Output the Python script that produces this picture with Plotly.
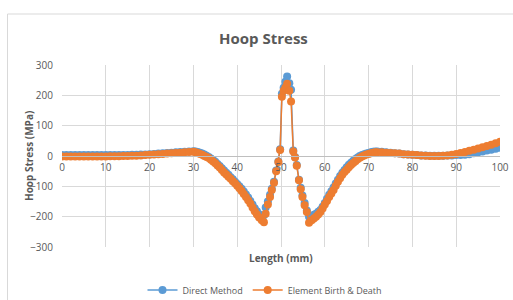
import plotly.graph_objects as go

length_mm = [0, 1, 2, 3, 4, 5, 6, 7, 8, 9, 10, 11, 12, 13, 14, 15, 16, 17, 18, 19,
             20, 21, 22, 23, 24, 25, 26, 27, 28, 29,
             30, 30.5, 31, 31.5, 32, 32.5, 33, 33.5, 34, 34.5, 35, 35.5, 36, 36.5, 37, 37.5,
             38, 38.5, 39, 39.5, 40, 40.5, 41, 41.5, 42, 42.5, 43, 43.5, 44, 44.5, 45, 45.6, 46.1,
             46.5, 47.0, 47.5, 47.9, 48.4, 48.9, 49.4, 49.8,
             50.2, 50.6, 51.0, 51.4, 51.9, 52.3, 52.8, 53.2, 53.6, 54.1, 54.5, 54.9, 55.4, 55.9,
             56.4, 57, 57.5, 58, 58.5, 59, 59.5, 60, 60.5, 61, 61.5, 62, 62.5, 63, 63.5, 64, 64.5,
             65, 65.5, 66, 66.5, 67, 67.5, 68, 68.5, 69, 69.5, 70, 70.5, 71, 71.5, 72,
             73, 74, 75, 76, 77, 78, 79, 80, 81, 82, 83, 84, 85, 86, 87, 88, 89, 90,
             91, 92, 93, 94, 95, 96, 97, 98, 99, 100]

direct_method = [3, 3, 3, 3, 3, 3, 3, 3, 3, 3, 3, 3, 3, 3, 3, 3, 4, 4, 5, 5,
                 6, 7, 8, 9, 10, 11, 12, 13, 14, 15,
                 16, 15, 13, 11, 8, 5, 1, -3, -8, -13, -19, -26, -33, -40, -48, -55,
                 -62, -70, -77, -85, -92, -100, -108, -117, -127, -137, -148, -160, -172, -182, -192, -200, -195,
                 -170, -150, -128, -108, -85, -48, -18, 22,
                 205, 225, 245, 262, 240, 218, 18, -3, -30, -78, -105, -130, -155, -180,
                 -200, -198, -194, -190, -184, -178, -167, -155, -141, -128, -116, -104, -91, -78, -66, -55, -46,
                 -37, -29, -22, -16, -10, -5, 0, 3, 6, 8, 10, 12, 14, 15, 15,
                 14, 12, 11, 9, 8, 6, 5, 4, 3, 2, 2, 1, 1, 1, 1, 2, 2, 3,
                 3, 4, 6, 9, 12, 15, 18, 21, 24, 27]

birth_death = [-2, -2, -2, -2, -2, -2, -2, -2, -2, -2, -2, -1, -1, -1, 0, 0, 1, 1, 2, 3,
               4, 5, 6, 7, 8, 9, 10, 11, 12, 13,
               14, 12, 10, 7, 4, 0, -3, -7, -12, -18, -24, -31, -38, -46, -54, -61,
               -68, -75, -83, -90, -98, -106, -115, -125, -135, -146, -157, -170, -182, -193, -203, -212, -218,
               -190, -160, -135, -112, -88, -50, -20, 20,
               195, 215, 225, 238, 215, 180, 15, -5, -32, -80, -110, -135, -162, -185,
               -220, -212, -206, -200, -193, -185, -173, -160, -148, -135, -124, -112, -98, -85, -73, -62, -53,
               -45, -37, -30, -23, -17, -11, -6, -2, 2, 5, 7, 9, 11, 12, 12,
               12, 11, 10, 9, 8, 6, 5, 4, 3, 2, 1, 0, 0, 0, 1, 2, 4, 7,
               10, 13, 17, 21, 25, 29, 33, 37, 42, 47]

series_names = ["Direct Method", "Element Birth & Death"]
series_colors = ["#5B9BD5", "#ED7D31"]
x_ticks = [0, 10, 20, 30, 40, 50, 60, 70, 80, 90, 100]
y_ticks = [-300, -200, -100, 0, 100, 200, 300]

assert len(length_mm) == len(direct_method) == len(birth_death)

FONT = "Open Sans"
GREY = "#595959"

fig = go.Figure()
for name, vals, col in zip(series_names, [direct_method, birth_death], series_colors):
    fig.add_trace(go.Scatter(
        x=length_mm, y=vals, name=name, mode="lines+markers",
        line=dict(color=col, width=1.5),
        marker=dict(color=col, size=8),
    ))

L, R, T, B = 62, 13, 65, 53
W, H = 513, 300
pw, ph = W - L - R, H - T - B

def px_x(p):
    return (p - L) / pw

def px_y(p):
    return (H - B - p) / ph

fig.update_layout(
    width=W, height=H,
    margin=dict(l=L, r=R, t=T, b=B, autoexpand=False),
    paper_bgcolor="white", plot_bgcolor="white",
    font=dict(family=FONT, size=10, color=GREY),
    showlegend=True,
    legend=dict(orientation="h", x=px_x(265), xanchor="center", y=px_y(290), yanchor="middle",
                font=dict(family=FONT, size=9, color=GREY),
                tracegroupgap=0),
    xaxis=dict(range=[0, 100], tickvals=x_ticks, showgrid=True, gridcolor="#D9D9D9",
               gridwidth=1, zeroline=False, showline=True, linecolor="#BFBFBF",
               anchor="free", position=0.5, ticks="", automargin=False,
               ticklabelstandoff=2, tickfont=dict(size=10, color=GREY)),
    yaxis=dict(range=[-300, 300], tickvals=y_ticks, showgrid=True, gridcolor="#D9D9D9",
               gridwidth=1, zeroline=False, showline=False, ticks="", automargin=False,
               ticklabelstandoff=8, tickfont=dict(size=10, color=GREY)),
    annotations=[
        dict(text="<b>Hoop Stress</b>", xref="paper", yref="paper", x=px_x(263), y=px_y(38),
             showarrow=False, font=dict(family=FONT, size=15, color=GREY),
             xanchor="center", yanchor="middle"),
        dict(text="<b>Length (mm)</b>", xref="paper", yref="paper", x=px_x(281), y=px_y(258),
             showarrow=False, font=dict(family=FONT, size=10, color=GREY),
             xanchor="center", yanchor="middle"),
        dict(text="<b>Hoop Stress (MPa)</b>", xref="paper", yref="paper", x=px_x(29), y=px_y(156),
             showarrow=False, textangle=-90, font=dict(family=FONT, size=10, color=GREY),
             xanchor="center", yanchor="middle"),
    ],
    shapes=[
        dict(type="rect", xref="paper", yref="paper", x0=px_x(7.5), x1=px_x(530),
             y0=px_y(320), y1=px_y(14), line=dict(color="#D9D9D9", width=1),
             fillcolor="rgba(0,0,0,0)", layer="below"),
    ],
)

fig.write_html("out.html", config={"displayModeBar": False},
               post_script="document.body.style.margin='0';document.body.style.overflow='hidden';")
